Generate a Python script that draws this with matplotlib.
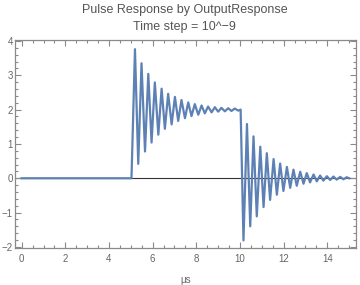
import matplotlib.pyplot as plt
from matplotlib.ticker import MultipleLocator

plt.rcParams['font.family'] = ['Liberation Sans', 'DejaVu Sans']

# pulse: flat, then ringing after the rising edge, then ringing after the falling edge
flat_t = [0.0, 5.03]
flat_v = [0.0, 0.0]

# extremes of the ringing after the rising edge (values around the level 2)
up_t = [5.19, 5.34, 5.49, 5.65, 5.80, 5.95, 6.10, 6.26, 6.41, 6.56, 6.71, 6.87,
        7.02, 7.17, 7.32, 7.48, 7.63, 7.78, 7.93, 8.09, 8.24, 8.39, 8.54, 8.70,
        8.85, 9.00, 9.15, 9.31, 9.46, 9.61, 9.76, 9.92, 10.03]
up_v = [3.76, 0.42, 3.35, 0.78, 3.04, 1.04, 2.79, 1.27, 2.61, 1.44, 2.46, 1.57,
        2.37, 1.67, 2.28, 1.75, 2.21, 1.81, 2.16, 1.85, 2.12, 1.89, 2.09, 1.92,
        2.07, 1.94, 2.05, 1.95, 2.04, 1.96, 2.03, 1.97, 2.0]

# extremes of the ringing after the falling edge (values around 0)
down_t = [10.16, 10.32, 10.47, 10.62, 10.77, 10.93, 11.08, 11.23, 11.38, 11.54,
          11.69, 11.84, 11.99, 12.15, 12.30, 12.45, 12.60, 12.76, 12.91, 13.06,
          13.21, 13.37, 13.52, 13.67, 13.82, 13.98, 14.13, 14.28, 14.43, 14.59,
          14.74, 14.89, 15.0]
down_v = [-1.81, 1.58, -1.40, 1.22, -1.11, 0.92, -0.84, 0.73, -0.63, 0.56,
          -0.48, 0.43, -0.37, 0.33, -0.28, 0.25, -0.22, 0.19, -0.16, 0.15,
          -0.12, 0.11, -0.09, 0.08, -0.07, 0.06, -0.05, 0.05, -0.04, 0.04,
          -0.03, 0.03, 0.0]

t = flat_t + up_t + down_t
v = flat_v + up_v + down_v

frame_col = '#8a8a8a'
text_col = '#666666'

fig = plt.figure(figsize=(3.6, 2.85), dpi=100)
ax = fig.add_axes([0.042, 0.130, 0.946, 0.730])

ax.axhline(0, color='#333333', lw=0.8, zorder=1)
ax.plot(t, v, color='#5e81b5', lw=1.6, zorder=2)

ax.set_xlim(-0.3, 15.3)
ax.set_ylim(-2.03, 4.03)

ax.xaxis.set_major_locator(MultipleLocator(2))
ax.xaxis.set_minor_locator(MultipleLocator(0.5))
ax.yaxis.set_major_locator(MultipleLocator(1))
ax.yaxis.set_minor_locator(MultipleLocator(0.2))
ax.tick_params(which='both', direction='in', top=True, right=True,
               color=frame_col, width=0.8, labelsize=7, labelcolor=text_col)
ax.tick_params(which='major', length=4)
ax.tick_params(which='minor', length=2)
ax.tick_params(axis='x', which='major', pad=4)
ax.tick_params(axis='y', which='major', pad=1.5)
for s in ax.spines.values():
    s.set_color(frame_col)
    s.set_linewidth(0.9)

ax.yaxis.set_major_formatter(plt.FuncFormatter(lambda y, p: f'{int(round(y))}'.replace('-', '−')))

ax.set_xlabel('μs', fontsize=7, color=text_col, labelpad=8)
fig.text(0.512, 0.965, 'Pulse Response by OutputResponse', ha='center', va='center',
         fontsize=9, color='#555555')
fig.text(0.512, 0.905, 'Time step = 10^−9', ha='center', va='center',
         fontsize=9, color='#555555')

fig.savefig('out.png', dpi=100)
